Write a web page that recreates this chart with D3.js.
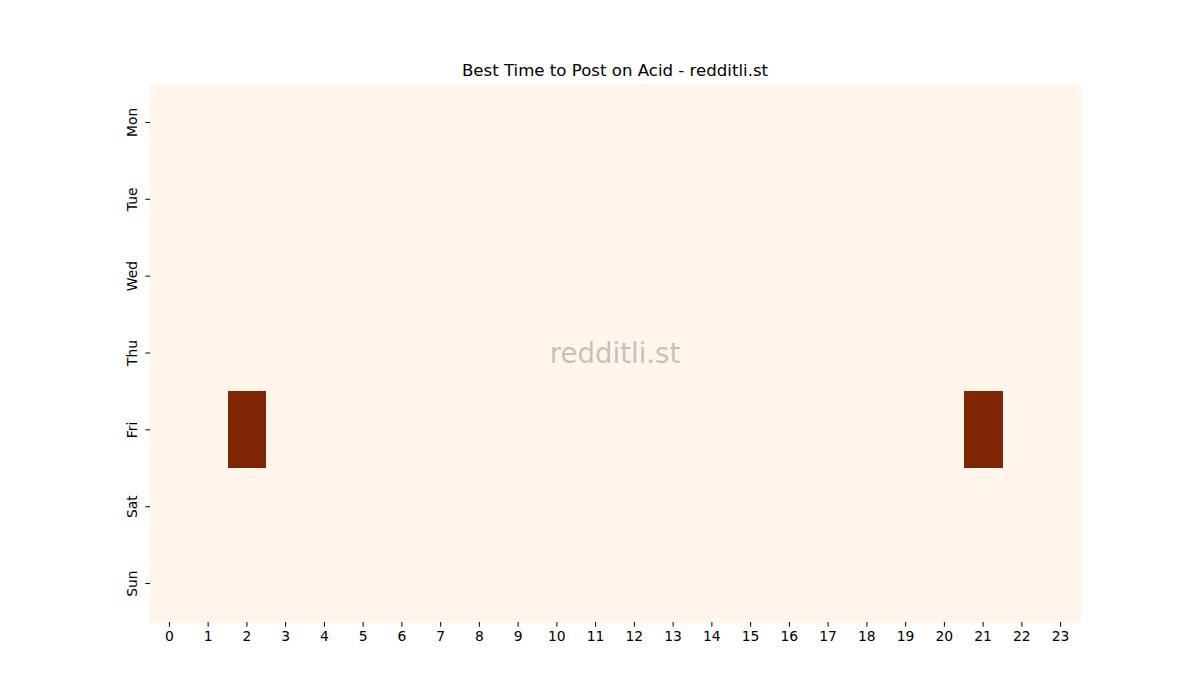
<!DOCTYPE html>
<html>
<head>
<meta charset="utf-8">
<script src="https://cdn.jsdelivr.net/npm/d3@7"></script>
<style>
  body { margin: 0; background: #fff; }
  text { font-family: "DejaVu Sans", sans-serif; }
</style>
</head>
<body>
<div id="chart"></div>
<script>
// chart data
const days = ['Mon', 'Tue', 'Wed', 'Thu', 'Fri', 'Sat', 'Sun'];
const hours = d3.range(24);
const mon = [0,0,0,0,0,0,0,0,0,0,0,0,0,0,0,0,0,0,0,0,0,0,0,0];
const tue = [0,0,0,0,0,0,0,0,0,0,0,0,0,0,0,0,0,0,0,0,0,0,0,0];
const wed = [0,0,0,0,0,0,0,0,0,0,0,0,0,0,0,0,0,0,0,0,0,0,0,0];
const thu = [0,0,0,0,0,0,0,0,0,0,0,0,0,0,0,0,0,0,0,0,0,0,0,0];
const fri = [0,0,1,0,0,0,0,0,0,0,0,0,0,0,0,0,0,0,0,0,0,1,0,0];
const sat = [0,0,0,0,0,0,0,0,0,0,0,0,0,0,0,0,0,0,0,0,0,0,0,0];
const sun = [0,0,0,0,0,0,0,0,0,0,0,0,0,0,0,0,0,0,0,0,0,0,0,0];
const rows = [mon, tue, wed, thu, fri, sat, sun];

const width = 1200, height = 700;
const margin = {top: 84, right: 120, bottom: 78, left: 150};

const svg = d3.select('#chart').append('svg')
    .attr('width', width)
    .attr('height', height);

// flatten to cells
const cells = [];
rows.forEach((r, i) => r.forEach((v, h) => cells.push({day: days[i], hour: h, value: v})));

const x = d3.scaleBand()
    .domain(hours)
    .range([margin.left, width - margin.right]);

const y = d3.scaleBand()
    .domain(days)
    .range([margin.top, height - margin.bottom]);

// matplotlib Oranges
const color = d3.scaleLinear()
    .domain([0, 1])
    .range(['#fff5eb', '#7f2704']);

svg.append('g')
    .selectAll('rect')
    .data(cells)
    .enter()
    .append('rect')
    .attr('x', d => x(d.hour))
    .attr('y', d => y(d.day))
    .attr('width', x.bandwidth() + 0.5)
    .attr('height', y.bandwidth() + 0.5)
    .attr('fill', d => color(d.value))
    .attr('shape-rendering', 'crispEdges');

// axes
const xAxis = svg.append('g')
    .attr('transform', `translate(0, ${height - margin.bottom})`)
    .call(d3.axisBottom(x).tickSize(4.7).tickPadding(4));

const yAxis = svg.append('g')
    .attr('transform', `translate(${margin.left}, 0)`)
    .call(d3.axisLeft(y).tickSize(4.7).tickPadding(4));

[xAxis, yAxis].forEach(a => {
    a.select('.domain').remove();
    a.selectAll('.tick line').attr('stroke', '#000').attr('stroke-width', 1);
    a.selectAll('.tick text')
        .style('font-family', '"DejaVu Sans", sans-serif')
        .style('font-size', '13.9px')
        .attr('fill', '#000');
});

// rotate y labels like the original
yAxis.selectAll('.tick text')
    .attr('transform', 'rotate(-90)')
    .attr('x', 0)
    .attr('y', -13)
    .attr('dy', 0)
    .attr('text-anchor', 'middle');

// title
svg.append('text')
    .attr('x', (margin.left + width - margin.right) / 2)
    .attr('y', 76)
    .attr('text-anchor', 'middle')
    .style('font-size', '16.6px')
    .attr('fill', '#000')
    .text('Best Time to Post on Acid - redditli.st');

// watermark
svg.append('text')
    .attr('x', (margin.left + width - margin.right) / 2)
    .attr('y', 353)
    .attr('dy', '0.35em')
    .attr('text-anchor', 'middle')
    .style('font-size', '27.6px')
    .attr('fill', '#808080')
    .attr('fill-opacity', 0.45)
    .text('redditli.st');
</script>
</body>
</html>
